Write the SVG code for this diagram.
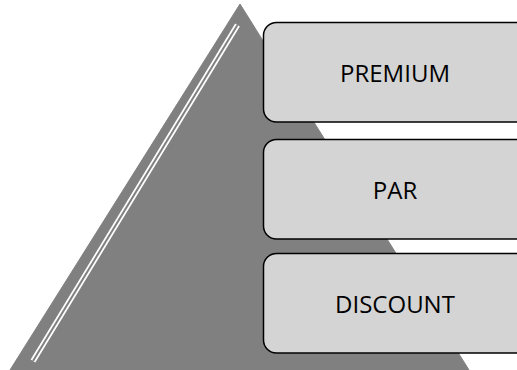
<svg xmlns="http://www.w3.org/2000/svg" width="517" height="370" viewBox="0 0 517 370">
<style>
.box{fill:#d4d4d4;stroke:#000;stroke-width:1.5}
.lbl{font-family:"Open Sans","DejaVu Sans",sans-serif;font-size:24px;fill:#000;text-anchor:middle}
</style>
<g id="pyramid">
<path d="M240,4 L469,370 L10,370 Z" fill="#808080" stroke="#808080" stroke-width="1" stroke-linejoin="round"/>
<line x1="237.5" y1="25" x2="33" y2="361" stroke="#fff" stroke-width="5.5"/>
<line x1="237.5" y1="25" x2="33" y2="361" stroke="#808080" stroke-width="2"/>
</g>
<g id="premium">
<rect class="box" x="263.5" y="22.5" width="270" height="99.5" rx="13"/>
<text class="lbl" x="395" y="82">PREMIUM</text>
</g>
<g id="par">
<rect class="box" x="263.5" y="139.5" width="270" height="99.5" rx="13"/>
<text class="lbl" x="395" y="199">PAR</text>
</g>
<g id="discount">
<rect class="box" x="263.5" y="253.5" width="270" height="99.5" rx="13"/>
<text class="lbl" x="395" y="313">DISCOUNT</text>
</g>
<g id="connectors"></g>
</svg>
